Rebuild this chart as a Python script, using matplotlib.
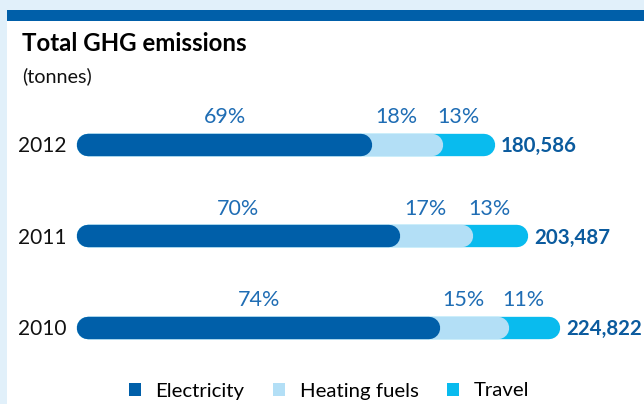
import matplotlib
matplotlib.use('Agg')
import matplotlib.pyplot as plt
from matplotlib.patches import Rectangle, Patch

# Data
years = ['2010', '2011', '2012']
totals = [224822, 203487, 180586]
categories = ['Electricity', 'Heating fuels', 'Travel']
electricity_pct = [74, 70, 69]
heating_pct = [15, 17, 18]
travel_pct = [11, 13, 13]

colors = ['#005fa9', '#b3dff6', '#09bbee']
bg = '#e1f0fa'
pct_color = '#1f6db4'
total_color = '#0b5b9e'

plt.rcParams['font.family'] = ['Lato', 'DejaVu Sans']

W, H = 644, 404
fig = plt.figure(figsize=(W / 100, H / 100), dpi=100)
fig.patch.set_facecolor(bg)


def fx(px):
    return px / W


def fy(py):
    return 1 - py / H


# white panel and top band
fig.add_artist(Rectangle((fx(7.3), 0), 1 - fx(7.3), fy(20.7), transform=fig.transFigure,
                         facecolor='white', edgecolor='none', zorder=0))
fig.add_artist(Rectangle((fx(7.3), fy(20.7)), 1 - fx(7.3), fy(10) - fy(20.7),
                         transform=fig.transFigure, facecolor='#005fa9', edgecolor='none', zorder=0))

fig.text(fx(22), fy(51), 'Total GHG emissions', fontsize=17.3, fontweight='bold',
         color='black', va='baseline')
fig.text(fx(22), fy(82), '(tonnes)', fontsize=14.2, color='#111111', va='baseline')

# bars: thick lines with round caps (axis does not start at zero, like the original)
ax = fig.add_axes([0, 0, 1, 1])
ax.set_xlim(-149900, 290000)
ax.set_ylim(-0.828, 3.575)
ax.axis('off')
ax.patch.set_alpha(0)

bar_start = -89600
lw = 16.1
for i, (yr, tot) in enumerate(zip(years, totals)):
    y = i
    span = tot - bar_start
    c1 = electricity_pct[i] / 100
    c2 = c1 + heating_pct[i] / 100
    ends = [bar_start + c1 * span, bar_start + c2 * span, tot]
    starts = [bar_start] + ends[:2]
    for k in (2, 1, 0):
        ax.plot([bar_start, ends[k]], [y, y], color=colors[k], lw=lw,
                solid_capstyle='round', zorder=2 + (2 - k))
    pcts = [electricity_pct[i], heating_pct[i], travel_pct[i]]
    for s, e, p in zip(starts, ends, pcts):
        ax.text((s + e) / 2, y + 0.3, f'{p}%', ha='center', va='center',
                fontsize=15.5, color=pct_color)
    ax.annotate(yr, (bar_start, y), xytext=(-15.5, -1), textcoords='offset points',
                ha='right', va='center', fontsize=15, color='#111111')
    ax.annotate(f'{tot:,}', (tot, y), xytext=(12.5, -1), textcoords='offset points',
                ha='left', va='center', fontsize=14.8, fontweight='bold', color=total_color)

handles = [Patch(facecolor=c, edgecolor='none', label=n) for c, n in zip(colors, categories)]
fig.legend(handles=handles, loc='center', bbox_to_anchor=(fx(329), fy(391)), ncol=3,
           frameon=False, fontsize=14.7, handlelength=0.6, handleheight=0.6,
           handletextpad=0.7, columnspacing=1.4, borderaxespad=0)

fig.savefig('out.png', dpi=100, facecolor=bg)
